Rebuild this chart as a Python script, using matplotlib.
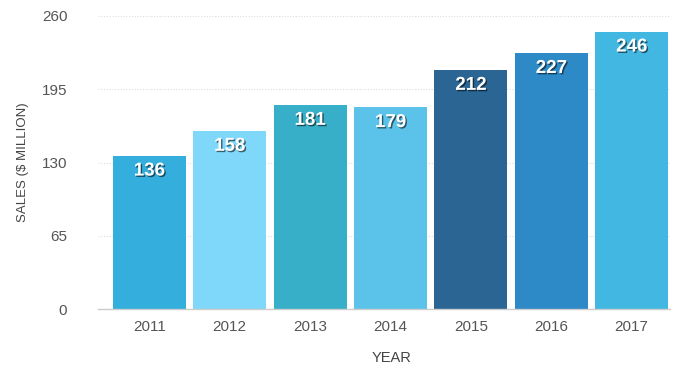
import matplotlib
matplotlib.use("Agg")
import matplotlib.pyplot as plt
import matplotlib.patheffects as pe

years = ["2011", "2012", "2013", "2014", "2015", "2016", "2017"]
sales = [136, 158, 181, 179, 212, 227, 246]
colors = ["#33AEDD", "#7FD8FA", "#38AFC8", "#5BC3EA", "#2A6593", "#2E8AC6", "#42B7E2"]
yticks = [0, 65, 130, 195, 260]

plt.rcParams['font.family'] = ['Liberation Sans', 'DejaVu Sans']

fig = plt.figure(figsize=(6.75, 3.72), dpi=100)
ax = fig.add_axes([0.145, 0.169, 0.848, 0.788])

x = list(range(len(years)))
bars = ax.bar(x, sales, width=0.91, color=colors, zorder=2)

for xi, v in zip(x, sales):
    ax.text(xi, v - 6, str(v), ha='center', va='top', color='white',
            fontsize=13.5, fontweight='bold', zorder=3,
            path_effects=[pe.withSimplePatchShadow(offset=(1, -1), shadow_rgbFace='black', alpha=0.55)])

ax.set_xlim(-0.64, 6.48)
ax.set_ylim(0, 260)
ax.set_yticks(yticks)
ax.set_xticks(x)
ax.set_xticklabels(years)
ax.tick_params(axis='both', length=0, labelsize=11, labelcolor='#555555')
ax.tick_params(axis='y', pad=22)
ax.tick_params(axis='x', pad=8)

ax.yaxis.grid(True, linestyle=(0, (1, 1.5)), color='#dddddd', linewidth=0.8, zorder=0)
ax.set_axisbelow(True)
for s in ['top', 'right', 'left']:
    ax.spines[s].set_visible(False)
ax.spines['bottom'].set_color('#cccccc')
ax.spines['bottom'].set_linewidth(1)

ax.set_ylabel("SALES ($ MILLION)", fontsize=9.5, color='#444444')
ax.yaxis.set_label_coords((29 - 98) / 572, 0.5)
ax.set_xlabel("YEAR", fontsize=10.5, color='#444444')
ax.xaxis.set_label_coords((391 - 98) / 572, -0.143)

fig.savefig("out.png", dpi=100)
